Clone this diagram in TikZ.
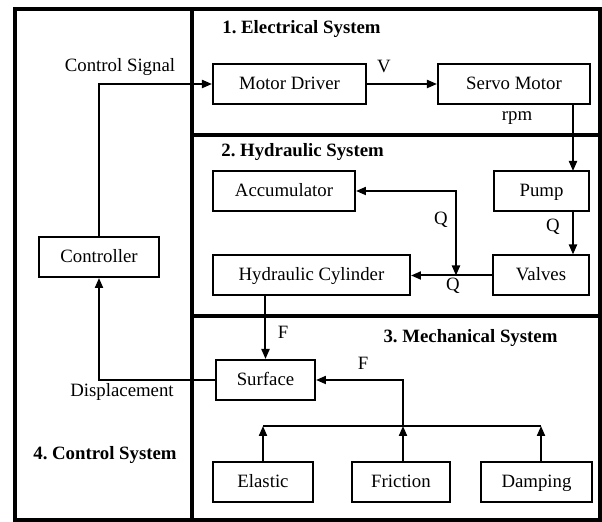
\documentclass[tikz,border=0pt]{standalone}
\usepackage{fontspec}
\setmainfont{Liberation Serif}
\usetikzlibrary{positioning,arrows.meta}
\frenchspacing

\begin{document}
\begin{tikzpicture}[x=0.5pt,y=-0.5pt,
  font=\fontsize{9.4}{11}\selectfont,
  blk/.style={draw,line width=1pt,minimum height=20pt,inner sep=1pt,text height=0.72em,text depth=0.2em},
  ttl/.style={font=\fontsize{9.4}{11}\selectfont\bfseries,inner sep=0pt},
  frm/.style={line width=1.6pt},
  a/.style={-{Triangle[length=5pt,width=4pt]},line width=1pt},
  aa/.style={{Triangle[length=5pt,width=4pt]}-{Triangle[length=5pt,width=4pt]},line width=1pt}]
\useasboundingbox (0,0) rectangle (602,522);
\draw[frm] (15,9) rectangle (600,520);
\draw[frm] (192,9) -- (192,520);
\draw[frm] (192,135) -- (600,135);
\draw[frm] (192,316) -- (600,316);
\node[ttl,anchor=west] (tel) at (222,29) {1. Electrical System};
\node[ttl,anchor=west] (thy) at (221,152) {2. Hydraulic System};
\node[ttl] (tme) at (470.5,338) {3. Mechanical System};
\node[ttl] (tco) at (105,455) {4. Control System};
\node[blk,minimum width=76.5pt] (drv) at (289.5,84) {Motor Driver};
\node[blk,minimum width=76pt,right=35pt of drv] (servo) {Servo Motor};
\node[blk,minimum width=71pt] (acc) at (284,191) {Accumulator};
\node[blk,minimum width=47.5pt] (pump) at (541.5,191) {Pump};
\node[blk,minimum width=98.5pt] (cyl) at (311.5,275.5) {Hydraulic Cylinder};
\node[blk,minimum width=48pt] (valves) at (541,275.5) {Valves};
\node[blk,minimum width=60pt] (ctrl) at (99,257) {Controller};
\node[blk,minimum width=49.5pt] (surf) at (265.5,380) {Surface};
\node[blk,minimum width=50pt] (el) at (263,482) {Elastic};
\node[blk,minimum width=49pt,right=18.5pt of el] (fr) {Friction};
\node[blk,minimum width=55.5pt,right=14.5pt of fr] (dm) {Damping};
\coordinate (pin) at (573,171);
\coordinate (jn) at (456,275.5);
\coordinate (bl) at (263,426);
\coordinate (bm) at (403,426);
\coordinate (br) at (541,426);
\draw[a] (ctrl.north) |- (drv.west);
\draw[a] (drv) -- (servo);
\draw[a] (pin |- servo.south) -- (pin);
\draw[a] (pin |- pump.south) -- (pin |- valves.north);
\draw[a] (valves) -- (cyl);
\draw[aa] (acc.east) -| (jn);
\draw[a] (surf.north |- cyl.south) -- (surf.north);
\draw[line width=1pt] (bl) -- (br);
\draw[a] (el.north) -- (bl);
\draw[a] (fr.north -| bm) -- (bm);
\draw[a] (dm.north -| br) -- (br);
\draw[a] (bm) |- (surf.east);
\draw[a] (surf.west) -| (ctrl.south);
\node (cs) at (120,67) {Control Signal};
\node (v) at (384,66) {V};
\node (rpm) at (517,118) {rpm};
\node (q1) at (441,220) {Q};
\node (q2) at (553,227) {Q};
\node (q3) at (453,286) {Q};
\node (f1) at (283,332) {F};
\node (f2) at (363,363) {F};
\node (disp) at (122,392) {Displacement};
\end{tikzpicture}
\end{document}
